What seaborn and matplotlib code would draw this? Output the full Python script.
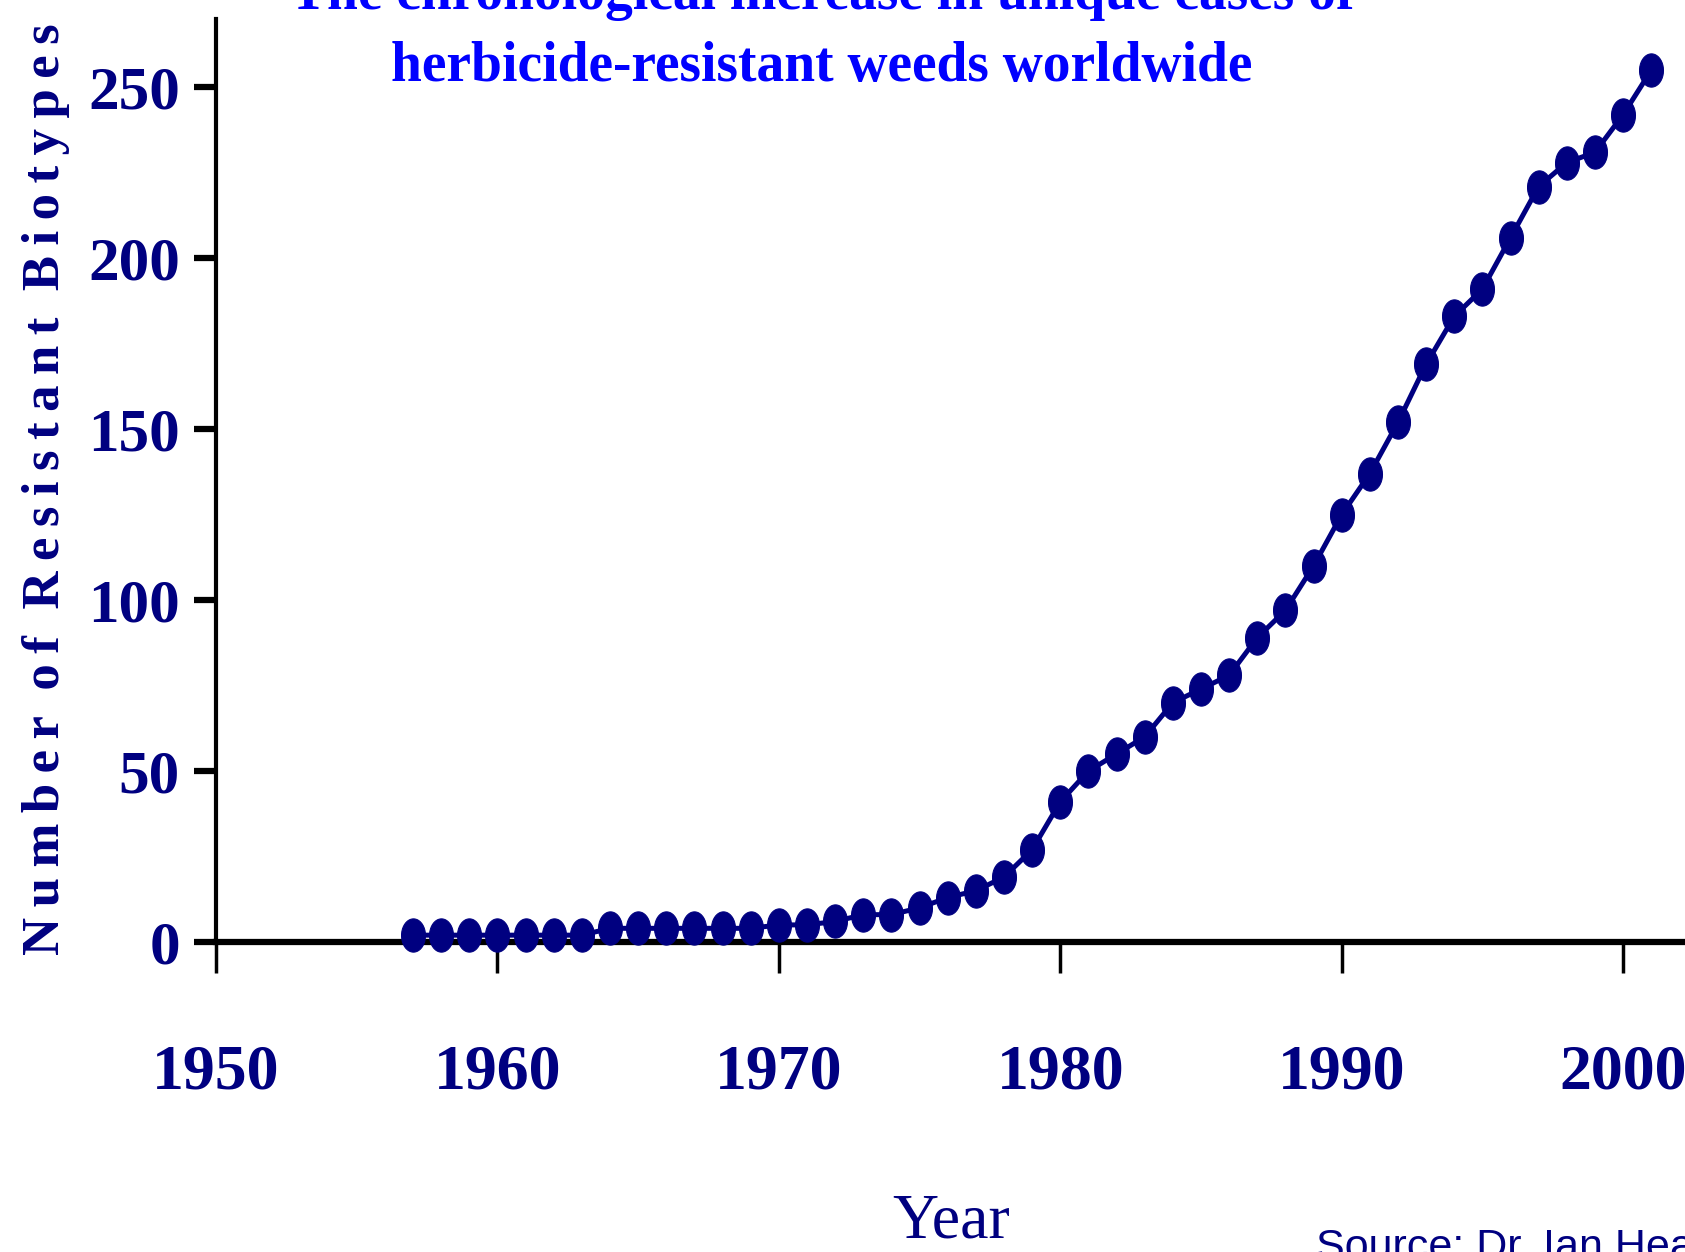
import numpy as np
import pandas as pd
import matplotlib
matplotlib.use("Agg")
import matplotlib.pyplot as plt
import seaborn as sns

years = [1957, 1958, 1959, 1960, 1961, 1962, 1963, 1964, 1965, 1966, 1967, 1968,
         1969, 1970, 1971, 1972, 1973, 1974, 1975, 1976, 1977, 1978, 1979, 1980,
         1981, 1982, 1983, 1984, 1985, 1986, 1987, 1988, 1989, 1990, 1991, 1992,
         1993, 1994, 1995, 1996, 1997, 1998, 1999, 2000, 2001]
biotypes = [2, 2, 2, 2, 2, 2, 2, 4, 4, 4, 4, 4,
            4, 5, 5, 6, 8, 8, 10, 13, 15, 19, 27, 41,
            50, 55, 60, 70, 74, 78, 89, 97, 110, 125, 137, 152,
            169, 183, 191, 206, 221, 228, 231, 242, 255]
xticks = [1950, 1960, 1970, 1980, 1990, 2000]
yticks = [0, 50, 100, 150, 200, 250]

title1 = "The chronological increase in unique cases of"
title2 = "herbicide-resistant weeds worldwide"
ylabel_words = ["Number", "of", "Resistant", "Biotypes"]
ylabel = "  ".join("\u2009".join(w) for w in ylabel_words)
xlabel = "Year"
source = "Source: Dr. Ian Heap"

navy = "#000080"
blue = "#0000FF"

sns.set_theme(style="white")
plt.rcParams['font.family'] = ['Liberation Serif', 'DejaVu Serif']

W, H = 1685, 1252
fig = plt.figure(figsize=(W / 100, H / 100), dpi=100)
ax = fig.add_axes([216 / W, 1 - 942 / H, (W - 216) / W, (942 - 19) / H])

df = pd.DataFrame({"Year": years, "Biotypes": biotypes})

t = np.linspace(0, 2 * np.pi, 40)
ellipse = list(zip(0.72 * np.cos(t), np.sin(t)))

sns.lineplot(data=df, x="Year", y="Biotypes", ax=ax, color=navy, linewidth=3.6,
             marker=ellipse, markersize=24, markeredgecolor=navy,
             markerfacecolor=navy, clip_on=False, zorder=5)

ax.set_xlim(1950, 2002.2)
ax.set_ylim(0, 270)
ax.set_xticks(xticks)
ax.set_yticks(yticks)
ax.set_xticklabels([str(v) for v in xticks])
ax.set_yticklabels([str(v) for v in yticks])

for s in ["top", "right"]:
    ax.spines[s].set_visible(False)
ax.spines["left"].set_color("black")
ax.spines["left"].set_linewidth(3.0)
ax.spines["bottom"].set_color("black")
ax.spines["bottom"].set_linewidth(4.5)
ax.spines["bottom"].set_zorder(4)

ax.tick_params(axis="y", direction="out", length=16, width=4.5, color="black",
               pad=10, labelsize=44, labelcolor=navy, left=True)
ax.tick_params(axis="x", direction="out", length=22, width=2.5, color="black",
               pad=52, labelsize=46, labelcolor=navy, bottom=True)
for lab in ax.get_xticklabels() + ax.get_yticklabels():
    lab.set_fontweight("bold")

ax.set_xlabel("")
ax.set_ylabel("")
ax.grid(False)

fig.text(46 / W, 1 - 489 / H, ylabel, rotation=90, ha="center", va="center",
         fontsize=38, fontweight="bold", color=navy)
fig.text(951 / W, 1 - 1222 / H, xlabel, ha="center", va="center",
         fontsize=46, color=navy)
fig.text(822 / W, 1 + 5 / H, title1, ha="center", va="center",
         fontsize=40, fontweight="bold", color=blue)
fig.text(822 / W, 1 - 67 / H, title2, ha="center", va="center",
         fontsize=40, fontweight="bold", color=blue)
fig.text(1316 / W, 1 - 1228 / H, source, ha="left", va="top",
         fontsize=31, color=navy, family=["Liberation Sans", "DejaVu Sans"])

fig.savefig("out.png", dpi=100)
